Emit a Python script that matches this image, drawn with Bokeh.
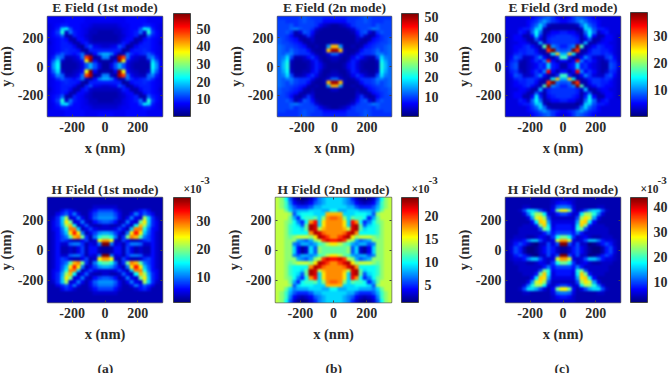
import numpy as np
from bokeh.embed import file_html
from bokeh.resources import INLINE
from bokeh.layouts import column, row
from bokeh.models import (ColorBar, FixedTicker, LinearAxis, LinearColorMapper, Range1d, Title)
from bokeh.plotting import figure

# Quadrant fields: row 0 = top (y about 337 nm), col 0 = x about 12 nm; 25 nm cells
E1 = [
[8,8,7,7,7,8,8,8,8,8,7,7,7,7],
[7,7,7,7,7,8,8,8,8,8,7,7,7,7],
[5,5,5,6,7,7,8,8,8,9,9,8,7,6],
[4,4,4,5,6,7,8,8,12,22,20,9,7,6],
[3,3,4,4,6,7,8,9,14,5,24,11,8,6],
[3,3,3,4,5,7,8,9,3,3,13,9,8,6],
[3,3,3,4,6,8,8,3,3,8,9,8,7,6],
[4,4,4,5,9,8,3,3,7,9,9,8,7,5],
[5,6,7,12,9,2,3,7,9,9,9,8,7,6],
[9,9,9,9,2,3,8,9,9,10,9,8,7,6],
[18,15,8,2,4,14,10,8,9,10,13,10,7,6],
[15,4,2,56,48,14,7,5,4,4,13,15,9,6],
[3,2,7,58,36,8,5,4,3,3,5,20,13,7],
[2,6,12,18,12,6,4,3,3,3,3,22,16,7]]
E2 = [
[8,8,8,9,9,9,10,11,10,9,9,9,9,9],
[7,7,7,9,9,10,10,11,10,9,9,9,10,10],
[2,3,4,6,9,10,10,10,10,9,11,10,10,10],
[2,2,2,3,5,9,10,10,11,13,12,10,10,10],
[2,2,2,2,3,7,10,11,5,3,9,11,10,10],
[2,2,2,2,2,5,9,4,2,3,7,9,10,10],
[2,2,2,2,2,4,3,2,3,7,8,9,10,11],
[4,2,2,2,2,3,2,3,7,8,9,10,10,11],
[36,14,2,2,3,2,3,7,8,9,10,10,11,12],
[50,36,3,2,2,3,7,9,9,10,12,10,11,12],
[12,5,3,2,3,6,9,9,9,10,13,13,11,12],
[4,3,2,3,6,9,7,4,3,3,10,18,13,12],
[3,2,2,4,8,6,3,3,2,2,4,20,15,12],
[2,2,3,6,8,5,3,2,2,2,3,21,16,12]]
E3 = [
[4,5,7,9,8,7,6,5,4,4,4,4,4,4],
[5,6,7,9,11,9,7,6,5,4,4,4,4,4],
[2,2,2,3,9,13,9,7,5,4,4,4,4,4],
[2,2,2,1,3,13,13,8,6,6,5,4,4,4],
[6,5,5,3,2,9,15,9,3,5,6,4,4,4],
[7,7,6,5,2,6,14,5,2,2,5,5,4,3],
[7,7,7,6,2,4,8,2,2,4,5,5,4,3],
[7,7,7,6,3,12,2,2,4,5,5,4,4,3],
[6,8,10,42,18,2,3,5,7,6,5,5,4,3],
[8,9,40,32,2,2,5,7,7,6,6,5,4,3],
[12,26,14,2,2,4,6,7,7,6,7,6,4,3],
[17,6,2,2,5,10,7,4,3,3,7,8,5,3],
[5,2,5,34,10,5,7,5,3,2,3,7,6,3],
[2,5,6,13,6,7,5,4,3,2,2,8,7,4]]
H1 = [
[3,3,3,3,3,3,3,3,3,3,3,3,3,3],
[3,3,3,3,3,3,3,3,3,3,3,3,3,3],
[4,4,4,3,3,3,3,3,3,3,3,3,3,3],
[8,8,6,4,3,3,3,4,6,7,5,3,3,3],
[10,10,8,5,3,3,5,10,6,9,7,5,3,3],
[11,11,9,5,3,5,10,5,4,21,13,7,4,3],
[9,8,6,3,4,10,5,4,19,25,13,7,5,3],
[4,3,3,4,9,5,3,15,27,21,12,7,5,3],
[4,4,5,8,5,3,13,29,29,16,10,6,5,3],
[12,11,8,5,3,10,25,33,25,13,9,6,4,3],
[18,16,10,3,7,19,29,27,18,10,8,6,4,3],
[28,24,4,3,8,5,3,3,4,7,8,6,4,3],
[40,10,4,5,3,7,10,10,9,4,4,6,4,3],
[2,3,6,6,3,8,5,3,4,3,3,6,4,3]]
H2 = [
[9,9,8,7,5,3,2,1.5,2,3,6,10,13,14],
[9,9,8,7,6,4,3,2.5,3,4,7,11,13,14],
[9,9,9,8,8,6,5,5,5,6,8,11,13,14],
[10,8,8,9,9,9,8,8,8,7,9,12,14,14],
[17,17,9,9,9,10,10,10,9,6,13,14,14,14],
[19,18,13,9,12,11,11,10,5,8,12,14,14,14],
[18,18,16,9,21,18,10,5,7,10,12,13,14,14],
[18,18,16,9,22,23,12,6,9,10,11,13,14,14],
[18,18,17,14,22,23,12,9,10,10,11,13,14,14],
[18,18,19,22,23,18,10,10,10,10,11,13,14,14],
[18,20,22,23,16,13,14,14,14,13,12,13,14,14],
[21,22,20,14,13,8,6,7,8,13,13,13,14,14],
[16,14,12,11,8,7,8,8,6,7,13,13,14,14],
[12,12,12,13,6,9,3,2,4,9,13,13,14,14]]
H3 = [
[5,5,5,4,4,4,4,4,4,4,4,4,4,4],
[8,7,5,4,4,4,4,4,4,4,4,4,4,4],
[12,11,6,4,4,4,4,4,5,5,4,4,4,4],
[28,22,7,4,6,10,14,16,16,10,5,4,4,4],
[10,8,5,6,17,24,24,19,12,6,4,4,4,4],
[5,5,5,10,24,29,26,14,6,4,4,4,4,4],
[6,6,6,14,29,30,17,7,4,4,4,4,4,4],
[8,8,6,17,30,22,8,5,5,5,4,4,4,4],
[8,8,7,19,22,10,5,5,5,5,5,4,4,4],
[10,10,8,12,8,5,5,5,5,5,5,4,4,4],
[22,18,9,5,6,7,5,4,4,5,5,5,4,4],
[32,26,6,5,6,10,15,15,12,8,6,6,5,4],
[44,10,6,10,5,5,2,3,5,8,10,8,5,4],
[3,5,8,10,7,5,3,1.5,1.5,4,8,10,6,4]]

titles = ["E Field (1st mode)", "E Field (2n mode)", "E Field (3rd mode)",
          "H Field (1st mode)", "H Field (2nd mode)", "H Field (3rd mode)"]
fields = [E1, E2, E3, H1, H2, H3]
lows = [0.3, 0.2, 0.3, 1.0, 1.3, 2.0]
highs = [58.6, 52.0, 38.7, 38.4, 24.0, 43.6]
bar_ticks = [[10,20,30,40,50], [10,20,30,40,50], [10,20,30], [10,20,30], [5,10,15,20], [10,20,30,40]]
panel_marks = ["(a)", "(b)", "(c)"]
axis_ticks = [-200, 0, 200]

FONT = "Liberation Serif"
DARK = "#2b2b2b"


def jet_channel(t):
    return int(round(255 * min(1.0, max(0.0, 1.5 - abs(4 * t)))))


JET = ["#%02x%02x%02x" % (jet_channel(i / 255 - 0.75), jet_channel(i / 255 - 0.5), jet_channel(i / 255 - 0.25))
       for i in range(256)]


def full_field(q):
    q = np.array(q, dtype=float)
    top = np.hstack([np.fliplr(q), q])
    whole = np.flipud(np.vstack([top, np.flipud(top)]))
    return np.pad(whole, 2, mode="edge")


def text_style(size):
    return dict(text_font=FONT, text_font_style="bold", text_font_size=size, text_color=DARK)


def tag(text, size, x, y):
    """A caption outside the frame: a hidden one-tick bar, as labels cannot leave the frame."""
    return ColorBar(color_mapper=LinearColorMapper(palette=JET, low=0, high=1), width=1, height=2, location=(x, y),
                    margin=0, padding=0, scale_alpha=0, bar_line_color=None, major_tick_line_color=None,
                    minor_tick_line_color=None, ticker=FixedTicker(ticks=[0.5]),
                    major_label_overrides={0.5: text}, major_label_text_font=FONT,
                    major_label_text_font_style="bold", major_label_text_font_size=size,
                    major_label_text_color=DARK, label_standoff=0)


def panel(i, width, height, left, fw, top, fh, title_gap):
    right = width - left - fw
    bottom = height - top - fh
    p = figure(width=width, height=height, output_backend="svg", toolbar_location=None,
               x_range=Range1d(-350, 350), y_range=Range1d(-350, 350),
               min_border_left=left, min_border_right=right, min_border_top=top, min_border_bottom=bottom,
               x_axis_label="x (nm)", y_axis_label="y (nm)")
    mapper = LinearColorMapper(palette=JET, low=lows[i], high=highs[i])
    p.image(image=[full_field(fields[i])], x=-400, y=-400, dw=800, dh=800, color_mapper=mapper)
    p.grid.visible = False
    p.outline_line_color = "#666666"
    p.outline_line_width = 1.5
    p.background_fill_color = "white"
    p.border_fill_color = "white"
    overrides = {t: str(t) for t in axis_ticks}
    for ax in [p.xaxis[0], p.yaxis[0]]:
        ax.ticker = FixedTicker(ticks=axis_ticks)
        ax.major_label_overrides = overrides
        ax.axis_line_color = None
        ax.major_tick_line_color = "#444444"
        ax.major_tick_in = 2
        ax.major_tick_out = 0
        ax.minor_tick_line_color = None
        ax.major_label_text_font = FONT
        ax.major_label_text_font_style = "bold"
        ax.major_label_text_font_size = "14px"
        ax.major_label_text_color = DARK
        ax.major_label_standoff = 5
        ax.axis_label_text_font = FONT
        ax.axis_label_text_font_style = "bold"
        ax.axis_label_text_font_size = "14.5px"
        ax.axis_label_text_color = DARK
        ax.axis_label_standoff = 5
    p.yaxis[0].major_label_standoff = 4
    p.yaxis[0].axis_label_standoff = 1
    for side in ["above", "right"]:
        mirror = LinearAxis(ticker=FixedTicker(ticks=axis_ticks), axis_line_color=None,
                            major_tick_line_color="#444444", major_tick_in=2, major_tick_out=0,
                            minor_tick_line_color=None, major_label_overrides={t: "" for t in axis_ticks},
                            major_label_text_color=None, major_label_text_font_size="1px",
                            major_label_standoff=0)
        p.add_layout(mirror, side)
    p.title = Title(text=titles[i], align="center", offset=0, standoff=title_gap, text_line_height=0.75,
                    **text_style("13.5px"))
    bar = ColorBar(color_mapper=mapper, width=17, height=fh, location=(fw + 10, 0), margin=0, padding=0,
                   ticker=FixedTicker(ticks=bar_ticks[i]), major_tick_line_color=None,
                   minor_tick_line_color=None, bar_line_color="#444444", major_label_text_font=FONT,
                   major_label_text_font_style="bold", major_label_text_font_size="14px",
                   major_label_text_color=DARK, label_standoff=6)
    p.add_layout(bar)
    if i >= 3:
        p.add_layout(tag("\u00d710", "11.5px", fw + 19, fh + 8))
        p.add_layout(tag("-3", "11px", fw + 36, fh + 16))
        p.add_layout(tag(panel_marks[i - 3], "13.5px", fw // 2 - 9, -67))
    return p


a = panel(0, 228, 174, 52, 116, 17, 103, 3)
b = panel(1, 226, 174, 55, 114, 17, 103, 3)
c = panel(2, 221, 174, 57, 115, 17, 104, 3)
d = panel(3, 228, 207, 52, 116, 27, 105, 2)
e = panel(4, 226, 207, 53, 116, 27, 105, 2)
f = panel(5, 221, 207, 57, 115, 27, 105, 2)

page = column(row(a, b, c, spacing=0), row(d, e, f, spacing=0), spacing=0)

head = ("<style>html,body{margin:0!important;padding:0;overflow:hidden} "
        "body{margin-top:-4px!important;margin-left:-6px!important}</style></head>")
smooth = """
<script>
function smoothWalk(root) {
  root.querySelectorAll('*').forEach(function (el) {
    if (el.tagName.toLowerCase() === 'image' && parseFloat(el.getAttribute('width')) > 40) {
      el.removeAttribute('image-rendering');
      el.style.imageRendering = 'auto';
      el.style.filter = 'blur(1.1px)';
    }
    if (el.shadowRoot) smoothWalk(el.shadowRoot);
  });
}
setInterval(function () { smoothWalk(document); }, 100);
</script>
</body>"""
html = file_html(page, INLINE)
open("out.html", "w").write(html.replace("</head>", head).replace("</body>", smooth))
